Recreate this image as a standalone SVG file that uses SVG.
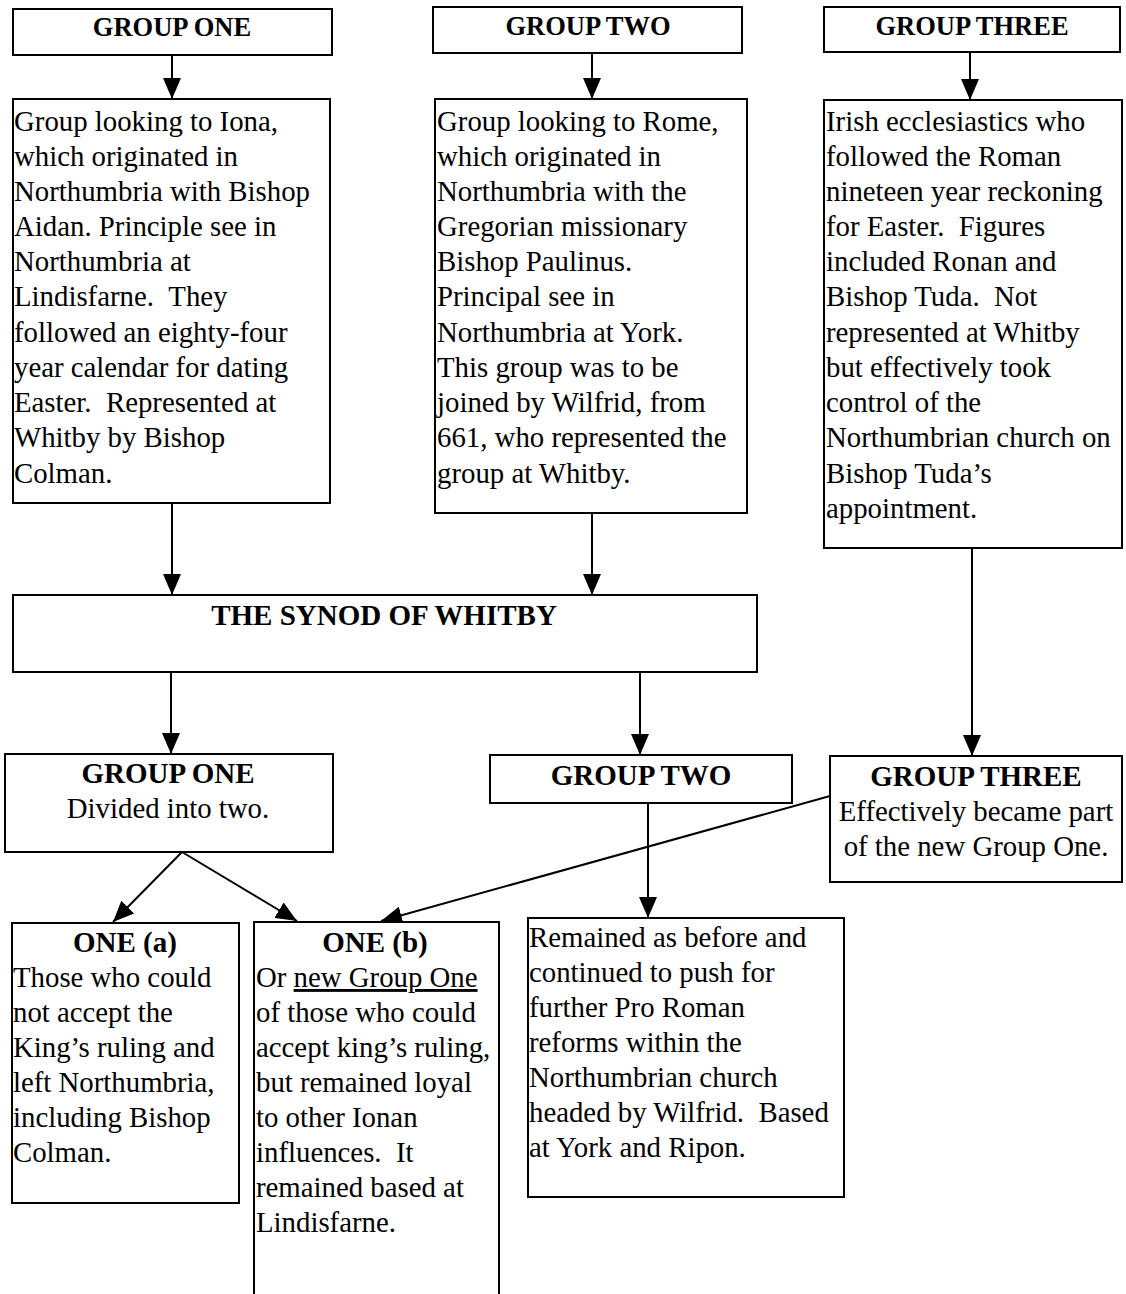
<svg xmlns="http://www.w3.org/2000/svg" width="1126" height="1294" viewBox="0 0 1126 1294">
<style>
.box{fill:#fff;stroke:#000;stroke-width:2}
.t{font-family:"Liberation Serif","Times New Roman",serif;font-size:28.8px;fill:#000}
.h{font-family:"Liberation Serif","Times New Roman",serif;font-size:26.5px;font-weight:bold;fill:#000;text-anchor:middle}
.h2{font-family:"Liberation Serif","Times New Roman",serif;font-size:29px;font-weight:bold;fill:#000;text-anchor:middle}
.c{text-anchor:middle}
.ln{stroke:#000;stroke-width:2;fill:none;marker-end:url(#ah)}
</style>
<defs>
<marker id="ah" markerUnits="userSpaceOnUse" markerWidth="22" markerHeight="18" refX="21" refY="9" orient="auto">
<path d="M0,0 L21,9 L0,18 Z" fill="#000"/>
</marker>
</defs>
<rect width="1126" height="1294" fill="#fff"/>

<g id="connectors">
<line class="ln" x1="172" y1="55" x2="172" y2="99"/>
<line class="ln" x1="592" y1="53" x2="592" y2="99"/>
<line class="ln" x1="970" y1="52" x2="970" y2="100"/>
<line class="ln" x1="172" y1="503" x2="172" y2="595"/>
<line class="ln" x1="592" y1="513" x2="592" y2="595"/>
<line class="ln" x1="171" y1="672" x2="171" y2="754"/>
<line class="ln" x1="640" y1="672" x2="640" y2="755"/>
<line class="ln" x1="972" y1="548" x2="972" y2="756"/>
<line class="ln" x1="182" y1="852" x2="113" y2="922"/>
<line class="ln" x1="182" y1="852" x2="297" y2="921"/>
<line class="ln" x1="830" y1="796" x2="381" y2="921"/>
<line class="ln" x1="648" y1="803" x2="648" y2="918"/>
</g>

<g id="g1-title">
<rect class="box" x="13" y="9" width="319" height="46"/>
<text class="h" x="172" y="36">GROUP ONE</text>
</g>
<g id="g2-title">
<rect class="box" x="433" y="7" width="309" height="46"/>
<text class="h" x="588" y="35">GROUP TWO</text>
</g>
<g id="g3-title">
<rect class="box" x="824" y="7" width="296" height="45"/>
<text class="h" x="972" y="35">GROUP THREE</text>
</g>

<g id="g1-desc">
<rect class="box" x="13" y="99" width="317" height="404"/>
<text class="t" x="14">
<tspan x="14" y="131">Group looking to Iona,</tspan>
<tspan x="14" y="166">which originated in</tspan>
<tspan x="14" y="201">Northumbria with Bishop</tspan>
<tspan x="14" y="236">Aidan. Principle see in</tspan>
<tspan x="14" y="271">Northumbria at</tspan>
<tspan x="14" y="306">Lindisfarne. &#160;They</tspan>
<tspan x="14" y="342">followed an eighty-four</tspan>
<tspan x="14" y="377">year calendar for dating</tspan>
<tspan x="14" y="412">Easter. &#160;Represented at</tspan>
<tspan x="14" y="447">Whitby by Bishop</tspan>
<tspan x="14" y="483">Colman.</tspan>
</text>
</g>

<g id="g2-desc">
<rect class="box" x="435" y="99" width="312" height="414"/>
<text class="t">
<tspan x="437" y="131">Group looking to Rome,</tspan>
<tspan x="437" y="166">which originated in</tspan>
<tspan x="437" y="201">Northumbria with the</tspan>
<tspan x="437" y="236">Gregorian missionary</tspan>
<tspan x="437" y="271">Bishop Paulinus.</tspan>
<tspan x="437" y="306">Principal see in</tspan>
<tspan x="437" y="342">Northumbria at York.</tspan>
<tspan x="437" y="377">This group was to be</tspan>
<tspan x="437" y="412">joined by Wilfrid, from</tspan>
<tspan x="437" y="447">661, who represented the</tspan>
<tspan x="437" y="483">group at Whitby.</tspan>
</text>
</g>

<g id="g3-desc">
<rect class="box" x="824" y="100" width="298" height="448"/>
<text class="t">
<tspan x="826" y="131">Irish ecclesiastics who</tspan>
<tspan x="826" y="166">followed the Roman</tspan>
<tspan x="826" y="201">nineteen year reckoning</tspan>
<tspan x="826" y="236">for Easter. &#160;Figures</tspan>
<tspan x="826" y="271">included Ronan and</tspan>
<tspan x="826" y="306">Bishop Tuda. &#160;Not</tspan>
<tspan x="826" y="342">represented at Whitby</tspan>
<tspan x="826" y="377">but effectively took</tspan>
<tspan x="826" y="412">control of the</tspan>
<tspan x="826" y="447">Northumbrian church on</tspan>
<tspan x="826" y="483">Bishop Tuda’s</tspan>
<tspan x="826" y="518">appointment.</tspan>
</text>
</g>

<g id="synod">
<rect class="box" x="13" y="595" width="744" height="77"/>
<text class="h2" x="384" y="625">THE SYNOD OF WHITBY</text>
</g>

<g id="g1-after">
<rect class="box" x="5" y="754" width="328" height="98"/>
<text class="h2" x="168" y="783">GROUP ONE</text>
<text class="t c" x="168" y="818">Divided into two.</text>
</g>

<g id="g2-after">
<rect class="box" x="490" y="755" width="302" height="48"/>
<text class="h2" x="641" y="785">GROUP TWO</text>
</g>

<g id="g3-after">
<rect class="box" x="830" y="756" width="292" height="126"/>
<text class="h2" x="976" y="786">GROUP THREE</text>
<text class="t c" x="976" y="821">Effectively became part</text>
<text class="t c" x="976" y="856">of the new Group One.</text>
</g>

<g id="one-a">
<rect class="box" x="12" y="923" width="227" height="280"/>
<text class="h2" x="125" y="952">ONE (a)</text>
<text class="t">
<tspan x="13" y="987">Those who could</tspan>
<tspan x="13" y="1022">not accept the</tspan>
<tspan x="13" y="1057">King’s ruling and</tspan>
<tspan x="13" y="1092">left Northumbria,</tspan>
<tspan x="13" y="1127">including Bishop</tspan>
<tspan x="13" y="1162">Colman.</tspan>
</text>
</g>

<g id="one-b">
<rect class="box" x="254" y="922" width="245" height="400"/>
<text class="h2" x="375" y="952">ONE (b)</text>
<text class="t">
<tspan x="256" y="987">Or <tspan text-decoration="underline">new Group One</tspan></tspan>
<tspan x="256" y="1022">of those who could</tspan>
<tspan x="256" y="1057">accept king’s ruling,</tspan>
<tspan x="256" y="1092">but remained loyal</tspan>
<tspan x="256" y="1127">to other Ionan</tspan>
<tspan x="256" y="1162">influences. &#160;It</tspan>
<tspan x="256" y="1197">remained based at</tspan>
<tspan x="256" y="1232">Lindisfarne.</tspan>
</text>
</g>

<g id="g2-remained">
<rect class="box" x="528" y="918" width="316" height="279"/>
<text class="t">
<tspan x="529" y="947">Remained as before and</tspan>
<tspan x="529" y="982">continued to push for</tspan>
<tspan x="529" y="1017">further Pro Roman</tspan>
<tspan x="529" y="1052">reforms within the</tspan>
<tspan x="529" y="1087">Northumbrian church</tspan>
<tspan x="529" y="1122">headed by Wilfrid. &#160;Based</tspan>
<tspan x="529" y="1157">at York and Ripon.</tspan>
</text>
</g>
</svg>
